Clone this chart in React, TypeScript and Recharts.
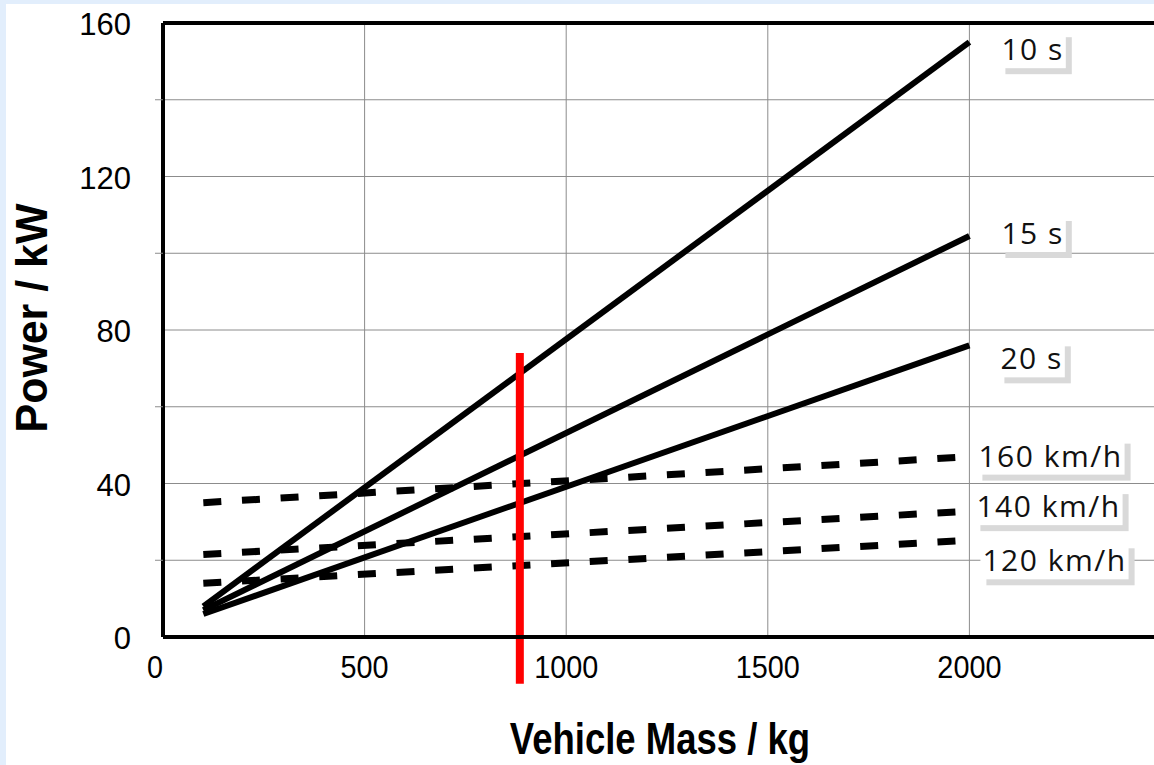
import React from 'react'
import { LineChart, Line, XAxis, YAxis, CartesianGrid, ReferenceLine } from 'recharts'

// mass range each curve is drawn over (kg)
const MASS_ENDS = [100, 2000]

// acceleration time curves (kW at the two mass ends)
const P_10S = [8, 155]
const P_15S = [7, 104.5]
const P_20S = [6, 76]

// top speed curves (kW)
const P_160 = [35, 47]
const P_140 = [21.5, 32.8]
const P_120 = [14, 25.2]

const SERIES_NAMES = ['10 s', '15 s', '20 s', '160 km/h', '140 km/h', '120 km/h']

const X_TICKS = [0, 500, 1000, 1500, 2000]
const Y_TICKS = [0, 20, 40, 60, 80, 100, 120, 140, 160]

// the marked vehicle (red bar)
const MARK_MASS = 885
const MARK_POWER = [74, -12.2]

const toSeries = (p: number[]) => MASS_ENDS.map((m, i) => ({ m, p: p[i] }))

// where each end tag sits relative to the end of its curve (px)
const TAG_OFFSET: Record<string, [number, number]> = {
  '10 s': [32, 7],
  '15 s': [32, -3],
  '20 s': [31, 13],
  '160 km/h': [9, -1],
  '140 km/h': [7, -5],
  '120 km/h': [13, 20],
}

const TAG_SIZE = 30
const TAG_FONT = `${TAG_SIZE}px "Open Sans"`
const TAG_SPACING = 1.5

let measureCtx: CanvasRenderingContext2D | null = null
function textWidth(t: string) {
  if (!measureCtx) measureCtx = document.createElement('canvas').getContext('2d')
  if (!measureCtx) return t.length * 17
  measureCtx.font = TAG_FONT
  return measureCtx.measureText(t).width + TAG_SPACING * t.length
}

const renderTag = (name: string) => (props: any) => {
  const { cx, cy, index } = props
  if (index !== MASS_ENDS.length - 1) return <g key={`d${index}`} />
  const [dx, dy] = TAG_OFFSET[name]
  const left = cx + dx
  const mid = cy + dy
  const w = textWidth(name)
  return (
    <g key={`tag-${name}`}>
      <rect x={left - 2 + 6} y={mid - 18 + 6} width={w + 4} height={37} fill="#d9d9d9" />
      <rect x={left - 2} y={mid - 18} width={w + 4} height={37} fill="#fff" />
      <text
        x={left}
        y={mid + 11}
        fontFamily="Open Sans"
        fontSize={TAG_SIZE}
        letterSpacing={TAG_SPACING}
        fill="#111"
      >
        {name}
      </text>
    </g>
  )
}

const YTick = ({ x, y, payload }: any) => {
  if (payload.value % 40 !== 0) {
    return <line x1={x - 8} x2={x} y1={y} y2={y} stroke="#8c8c8c" strokeWidth={1} />
  }
  return (
    <text x={x - 32} y={y + 12} textAnchor="end" fontFamily="Liberation Sans, Arial" fontSize={31} fill="#000">
      {payload.value}
    </text>
  )
}

const XTick = ({ x, y, payload }: any) => (
  <text
    transform={`translate(${payload.value === 0 ? x - 8 : x},${y + 41}) scale(0.9,1)`}
    textAnchor="middle"
    fontFamily="Liberation Sans, Arial"
    fontSize={32}
    fill="#000"
  >
    {payload.value}
  </text>
)

export default function App() {
  const solid = [P_10S, P_15S, P_20S]
  const dashed = [P_160, P_140, P_120]

  return (
    <div
      style={{
        position: 'fixed',
        left: 0,
        top: 0,
        width: 1154,
        height: 765,
        overflow: 'hidden',
        background: '#e2eefc',
      }}
    >
      <div style={{ position: 'absolute', left: 6, top: 4, right: 0, bottom: 0, background: '#fff' }} />
      <div style={{ position: 'absolute', left: 0, top: 0 }}>
        <LineChart width={1191} height={765} margin={{ top: 23, right: 20, bottom: 98, left: 103 }}>
          <CartesianGrid stroke="#8c8c8c" strokeWidth={1} />
          <XAxis
            type="number"
            dataKey="m"
            domain={[0, 2500]}
            ticks={X_TICKS}
            allowDataOverflow
            height={30}
            tickSize={0}
            tickMargin={0}
            tick={<XTick />}
            axisLine={{ stroke: '#000', strokeWidth: 4 }}
            label={{
              content: () => (
                <text
                  transform="translate(660,754) scale(0.83,1)"
                  textAnchor="middle"
                  fontFamily="Liberation Sans, Arial"
                  fontWeight="bold"
                  fontSize={44}
                  fill="#000"
                >
                  Vehicle Mass / kg
                </text>
              ),
            }}
          />
          <YAxis
            type="number"
            domain={[0, 160]}
            ticks={Y_TICKS}
            allowDataOverflow
            width={60}
            tickSize={0}
            tickMargin={0}
            tick={<YTick />}
            tickLine={false}
            axisLine={{ stroke: '#000', strokeWidth: 4 }}
            label={{
              content: () => (
                <text
                  transform="translate(47,318) rotate(-90) scale(0.975,1)"
                  textAnchor="middle"
                  fontFamily="Liberation Sans, Arial"
                  fontWeight="bold"
                  fontSize={44}
                  fill="#000"
                >
                  Power / kW
                </text>
              ),
            }}
          />
          <ReferenceLine y={160} stroke="#000" strokeWidth={4} />
          {solid.map((p, i) => (
            <Line
              key={SERIES_NAMES[i]}
              data={toSeries(p)}
              dataKey="p"
              stroke="#000"
              strokeWidth={6}
              dot={renderTag(SERIES_NAMES[i])}
              activeDot={false}
              isAnimationActive={false}
            />
          ))}
          {dashed.map((p, i) => (
            <Line
              key={SERIES_NAMES[i + 3]}
              data={toSeries(p)}
              dataKey="p"
              stroke="#000"
              strokeWidth={7}
              strokeDasharray="18 20.7"
              dot={renderTag(SERIES_NAMES[i + 3])}
              activeDot={false}
              isAnimationActive={false}
            />
          ))}
          <ReferenceLine
            segment={[
              { x: MARK_MASS, y: MARK_POWER[0] },
              { x: MARK_MASS, y: MARK_POWER[1] },
            ]}
            ifOverflow="visible"
            stroke="#ff0000"
            strokeWidth={8}
          />
        </LineChart>
      </div>
    </div>
  )
}
